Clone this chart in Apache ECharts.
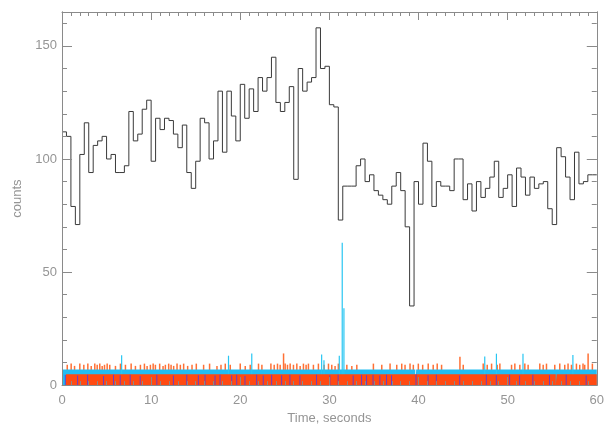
<!DOCTYPE html>
<html>
<head>
<meta charset="utf-8">
<script src="https://cdn.jsdelivr.net/npm/echarts@6/dist/echarts.min.js"></script>
<style>
  html, body { margin: 0; padding: 0; background: #ffffff; }
  #chart { width: 607px; height: 430px; }
</style>
</head>
<body>
<div id="chart"></div>
<script>
// Binned light curve: counts per 0.5 s bin, 0–60 s
const binWidth = 0.5;
const counts = [
  112, 110, 79, 71, 102, 116, 94, 106, 108, 110,
  100, 102, 94, 94, 97, 121, 108, 111, 122, 126,
  99, 118, 113, 118, 117, 111, 105, 115, 94, 87,
  99, 118, 116, 100, 108, 130, 103, 130, 119, 108,
  133, 118, 131, 121, 136, 130, 136, 145, 125, 121,
  125, 132, 91, 140, 130, 134, 136, 158, 140, 141,
  124, 123, 73, 88, 88, 88, 97, 100, 90, 93,
  86, 84, 82, 80, 88, 94, 86, 70, 35, 90,
  80, 107, 99, 79, 90, 88, 88, 86, 100, 100,
  82, 89, 77, 90, 83, 87, 92, 99, 83, 87,
  93, 79, 96, 92, 84, 92, 87, 89, 90, 78,
  71, 105, 101, 92, 82, 103, 89, 90, 93, 93
];

// Fine-resolution event traces near the baseline
// Level of the blue-green trace, as [time, counts] steps
const cyanLevel = [[0, 6.9], [39.64, 0], [39.74, 6.9], [60, 6.9]];
// Isolated excursions of the blue-green trace
const cyanSpikes = [
  [6.68, 13.2], [18.67, 13.0], [21.28, 14.0], [29.12, 13.5], [29.38, 11.0],
  [31.10, 13.0], [31.43, 62.9], [31.62, 34.0], [47.42, 12.7], [48.73, 13.9],
  [51.71, 13.9], [57.31, 13.3]
];
// Level of the red trace
const redLevel = [[0.45, 4.8], [55.40, 0], [55.50, 4.8], [60, 4.8]];
// Excursions of the red trace above its level
const orangeSpikes = [
  [0.56, 9.0], [1.00, 9.5], [1.38, 8.5], [1.97, 9.5], [2.42, 9.0], [2.87, 9.5],
  [3.25, 8.5], [3.65, 9.5], [3.92, 9.0], [4.21, 9.5], [4.48, 8.5], [4.74, 9.0],
  [5.04, 9.5], [5.33, 9.0], [5.97, 8.5], [6.53, 9.5], [7.09, 9.0], [7.73, 9.5],
  [8.21, 8.5], [8.77, 9.0], [9.22, 9.5], [9.52, 8.5], [9.89, 9.0], [10.20, 9.5],
  [10.45, 9.0], [10.93, 9.5], [11.31, 8.5], [11.57, 9.0], [11.94, 9.5], [12.21, 9.0],
  [12.50, 8.5], [12.88, 9.5], [13.25, 9.0], [13.62, 9.5], [14.07, 8.5], [14.56, 9.0],
  [15.04, 9.5], [15.86, 9.0], [16.53, 9.5], [17.36, 8.5], [17.81, 9.0], [18.29, 9.5],
  [18.85, 9.0], [19.97, 9.5], [20.53, 8.5], [21.09, 9.0], [22.02, 9.5], [22.40, 9.0],
  [23.41, 9.5], [23.78, 9.0], [24.15, 9.5], [24.45, 9.0], [24.83, 14.0], [25.01, 9.5],
  [25.27, 9.0], [25.57, 9.5], [25.94, 9.0], [26.32, 9.5], [26.69, 8.5], [27.06, 9.5],
  [27.36, 9.0], [27.62, 9.5], [28.18, 9.0], [28.74, 9.5], [29.38, 9.0], [29.87, 9.5],
  [30.24, 9.0], [30.61, 8.5], [30.98, 9.5], [31.93, 9.0], [32.49, 8.5], [33.05, 9.0],
  [34.91, 9.5], [35.85, 9.0], [36.78, 9.5], [37.53, 9.0], [38.09, 9.5], [38.46, 9.0],
  [39.02, 9.5], [39.39, 9.0], [39.95, 9.5], [40.44, 9.0], [41.06, 9.5], [41.62, 9.0],
  [42.07, 9.5], [42.56, 9.0], [44.62, 12.5], [44.99, 9.0], [47.23, 9.5], [47.68, 9.0],
  [48.17, 9.5], [48.80, 9.0], [49.10, 9.5], [50.41, 9.0], [50.78, 9.5], [51.34, 9.0],
  [51.90, 9.5], [52.27, 9.0], [53.58, 9.5], [53.96, 9.0], [54.33, 9.5], [55.26, 9.0],
  [55.82, 9.5], [56.38, 9.0], [56.75, 9.5], [57.13, 9.0], [57.69, 9.5], [58.06, 9.0],
  [58.43, 9.5], [58.62, 9.0], [59.00, 14.0], [59.48, 9.5]
];
// Violet trace events, [time, counts]
const blueEvents = [
  [0.37, 4.6], [1.75, 4.2], [2.87, 4.6], [4.66, 4.0], [5.78, 4.6], [6.53, 4.4],
  [7.65, 4.6], [8.77, 4.0], [10.64, 4.6], [12.50, 4.2], [14.00, 4.6], [15.30, 4.4],
  [16.05, 4.6], [17.17, 4.2], [17.73, 4.6], [19.04, 4.4], [19.60, 4.6], [20.53, 4.0],
  [21.84, 4.6], [22.58, 4.2], [23.52, 4.6], [24.64, 4.4], [25.57, 4.6], [26.69, 4.2],
  [28.56, 4.6], [30.05, 4.4], [30.98, 4.6], [32.67, 4.2], [33.61, 4.6], [34.17, 4.4],
  [34.90, 4.6], [35.66, 4.2], [36.41, 4.6], [36.97, 4.4], [39.72, 4.8], [41.07, 4.4],
  [42.00, 4.6], [44.62, 4.2], [47.61, 4.6], [48.73, 4.4], [50.22, 4.6], [51.34, 4.2],
  [52.83, 4.6], [54.70, 4.4], [56.57, 4.6], [58.81, 4.2]
];

// Axis tick values
const xRange = [0, 60];
const xStep = 10;
const yRange = [0, 165];
const yStep = 50;
const yMinorStep = 10;

const histData = counts.map((v, i) => [i * binWidth, v]);
histData.push([counts.length * binWidth, counts[counts.length - 1]]);

const axisGrey = '#8a8a8a';
const textGrey = '#959595';
const font = 'Liberation Sans, Arial, sans-serif';

function xAxisDef(pos, labels) {
  return {
    type: 'value', position: pos, min: xRange[0], max: xRange[1], interval: xStep,
    axisLine: { show: true, onZero: false, lineStyle: { color: axisGrey, width: 1 } },
    axisTick: { show: true, inside: true, length: 8, lineStyle: { color: axisGrey } },
    minorTick: { show: true, splitNumber: 10, length: 4, lineStyle: { color: axisGrey } },
    splitLine: { show: false }, minorSplitLine: { show: false },
    axisLabel: { show: labels, margin: 9, color: textGrey, fontSize: 13, fontFamily: font },
    name: labels ? 'Time, seconds' : '',
    nameLocation: 'middle', nameGap: 24,
    nameTextStyle: { color: textGrey, fontSize: 13, fontFamily: font },
    z: 10
  };
}

function yAxisDef(pos, step, tickLen, labels) {
  return {
    type: 'value', position: pos, offset: 0, min: yRange[0], max: yRange[1], interval: step,
    axisLine: { show: true, onZero: false, lineStyle: { color: axisGrey, width: 1 } },
    axisTick: { show: true, inside: true, length: tickLen, lineStyle: { color: axisGrey } },
    splitLine: { show: false },
    axisLabel: {
      show: labels, margin: 5, color: textGrey, fontSize: 13, fontFamily: font,
      formatter: v => (v % yStep === 0 ? String(v) : '')
    },
    name: labels ? 'counts' : '',
    nameLocation: 'middle', nameGap: 38, nameRotate: 90,
    nameTextStyle: { color: textGrey, fontSize: 13, fontFamily: font },
    z: 10
  };
}

// Thin vertical bars for individual excursions; layer order is set by z
function spikeSeries(data, color, width, z) {
  return {
    type: 'bar', data: data, barWidth: width, barGap: '-100%', z: z,
    itemStyle: { color: color }, silent: true
  };
}

// Filled step level for the dense part of a trace
function levelSeries(data, color, z) {
  return {
    type: 'line', data: data, step: 'end', symbol: 'none', z: z,
    lineStyle: { width: 0, color: color }, areaStyle: { color: color, opacity: 1 },
    silent: true
  };
}

const chart = echarts.init(document.getElementById('chart'), null, { renderer: 'canvas' });
chart.setOption({
  animation: false,
  backgroundColor: '#ffffff',
  grid: { left: 62, right: 10, top: 12, bottom: 38, containLabel: false },
  xAxis: [xAxisDef('bottom', true), xAxisDef('top', false)],
  yAxis: [
    yAxisDef('left', yStep, 10, true),
    yAxisDef('left', yMinorStep, 5, false),
    yAxisDef('right', yStep, 10, false),
    yAxisDef('right', yMinorStep, 5, false)
  ],
  series: [
    spikeSeries(orangeSpikes, '#ff7034', 1.5, 1),
    levelSeries(cyanLevel, '#22bdf2', 2),
    spikeSeries(cyanSpikes, '#28c6f2', 1.2, 3),
    levelSeries(redLevel, '#ff4a12', 4),
    spikeSeries(blueEvents, '#6a3cc8', 1, 5),
    {
      type: 'line', data: histData, step: 'end', symbol: 'none', z: 6,
      lineStyle: { color: '#3a3a3a', width: 1 }, silent: true
    }
  ]
});
</script>
</body>
</html>
